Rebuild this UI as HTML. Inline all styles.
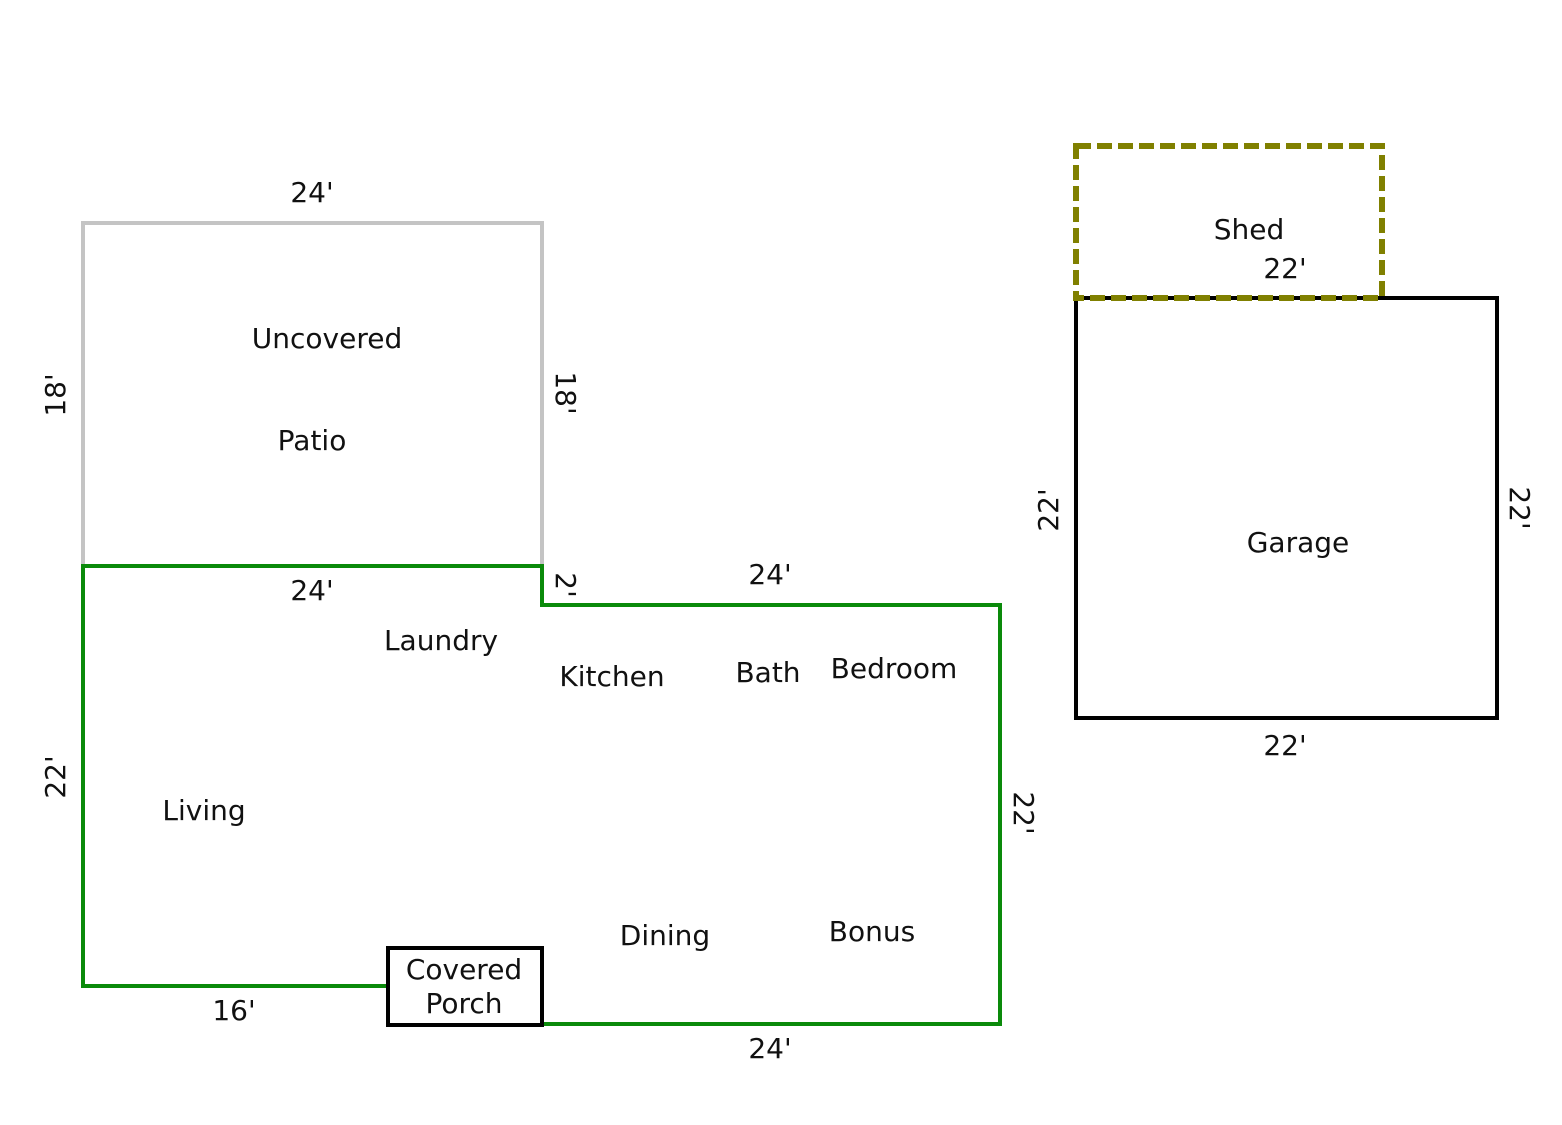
<!DOCTYPE html>
<html><head><meta charset="utf-8"><style>
html,body{margin:0;padding:0;background:#fff;}
svg text{font-family:"DejaVu Sans","Liberation Sans",sans-serif;font-size:28px;fill:#111;}
</style></head><body>
<svg width="1562" height="1120" viewBox="0 0 1562 1120" xmlns="http://www.w3.org/2000/svg">
<rect width="1562" height="1120" fill="#fff"/>
<polyline points="83,566 83,223 542,223 542,566" fill="none" stroke="#c4c4c4" stroke-width="4"/>
<polyline points="388,986 83,986 83,566 542,566 542,605 1000,605 1000,1024 542,1024" fill="none" stroke="#0a8a0a" stroke-width="4"/>
<rect x="388" y="948" width="154" height="77" fill="#fff" stroke="#000" stroke-width="4"/>
<rect x="1076" y="298" width="421" height="420" fill="none" stroke="#000" stroke-width="4"/>
<rect x="1076" y="146" width="306" height="152" fill="none" stroke="#808000" stroke-width="6" stroke-dasharray="15,6"/>

<g text-anchor="middle">
<text x="312" y="202">24'</text>
<text x="327" y="348">Uncovered</text>
<text x="312" y="450">Patio</text>
<text x="312" y="600">24'</text>
<text x="441" y="650">Laundry</text>
<text x="612" y="686">Kitchen</text>
<text x="768" y="682">Bath</text>
<text x="894" y="678">Bedroom</text>
<text x="770" y="584">24'</text>
<text x="204" y="820">Living</text>
<text x="665" y="945">Dining</text>
<text x="872" y="941">Bonus</text>
<text x="464" y="979">Covered</text>
<text x="464" y="1013">Porch</text>
<text x="234" y="1020">16'</text>
<text x="770" y="1058">24'</text>
<text x="1249" y="239">Shed</text>
<text x="1285" y="278">22'</text>
<text x="1298" y="552">Garage</text>
<text x="1285" y="755">22'</text>
<text transform="translate(65,395) rotate(-90)">18'</text>
<text transform="translate(556,393) rotate(90)">18'</text>
<text transform="translate(556,585) rotate(90)">2'</text>
<text transform="translate(65,777) rotate(-90)">22'</text>
<text transform="translate(1014,813) rotate(90)">22'</text>
<text transform="translate(1058,510) rotate(-90)">22'</text>
<text transform="translate(1510,508) rotate(90)">22'</text>
</g>
</svg>
</body></html>
